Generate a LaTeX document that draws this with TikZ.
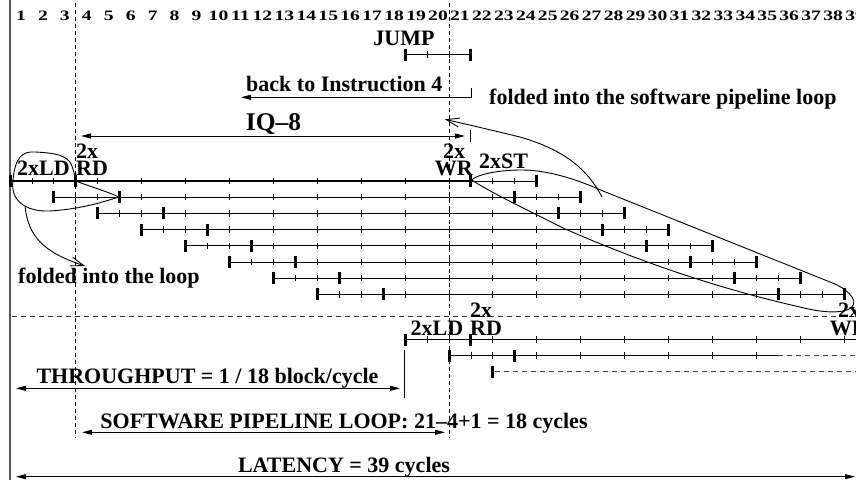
\documentclass[tikz,border=0pt]{standalone}
\usepackage{fontspec}
\setmainfont{Liberation Serif}
\usetikzlibrary{arrows.meta}
\newcommand{\tickthin}[2]{\draw[tickthinline] ({10+21.95*(#1)},{#2-3.2}) -- ({10+21.95*(#1)},{#2+3.2});}
\newcommand{\tickthick}[2]{\draw[tickthickline] ({10+21.95*(#1)},{#2-6}) -- ({10+21.95*(#1)},{#2+6});}
\begin{document}
\begin{tikzpicture}[x=1pt,y=-1pt,
  lab/.style={font=\fontsize{22}{22}\selectfont\bfseries, inner sep=0pt, anchor=base},
  biglab/.style={font=\fontsize{25.5}{25.5}\selectfont\bfseries, inner sep=0pt, anchor=base},
  numlab/.style={inner sep=0pt, anchor=base},
  thinlane/.style={line width=0.9pt},
  thicklane/.style={line width=2.8pt},
  tickthinline/.style={line width=0.9pt},
  tickthickline/.style={line width=3pt},
  dashlane/.style={line width=0.9pt, black!75, dash pattern=on 5pt off 4pt},
  vguide/.style={line width=0.9pt, dash pattern=on 4pt off 3pt},
  hguide/.style={line width=0.9pt, black!80, dash pattern=on 5pt off 4pt},
  dimarrow/.style={line width=0.9pt, arrows={Triangle[length=10pt,width=5pt]-Triangle[length=10pt,width=5pt]}},
  onearrow/.style={line width=0.9pt, arrows={-Triangle[length=10pt,width=5pt]}},
  foldarrow/.style={line width=0.9pt, arrows={-Straight Barb[length=13pt,width=9pt]}},
  loopline/.style={line width=0.9pt},
  plainline/.style={line width=0.9pt},
]
\fill[white] (0,0) rectangle (856,480);
\path[use as bounding box] (0,0) rectangle (856,480);

% left time axis line
\coordinate (axT) at (10,0);
\coordinate (axB) at (10,480);
\draw[line width=1.4pt, black!65] (axT) -- (axB);

% cycle numbers
\foreach \k in {1,...,39} {
  \node[numlab] (n\k) at ({10+21.95*(\k-0.5)},20.7)
    {\scalebox{1.36}[1]{\fontsize{14.4}{15}\selectfont\bfseries \k}};
}

% dashed guides
\coordinate (g1t) at ({10+21.95*3},3);
\coordinate (g1b) at ({10+21.95*3},438);
\coordinate (g2t) at ({10+21.95*20},3);
\coordinate (g2b) at ({10+21.95*20},438);
\draw[vguide] (g1t) -- (g1b);
\draw[vguide] (g2t) -- (g2b);
\coordinate (hgL) at (12,316.5);
\coordinate (hgR) at (856,316.5);
\draw[hguide] (hgL) -- (hgR);

% JUMP
\node[lab] (jump) at (404,45) {JUMP};
\draw[thinlane] ({10+21.95*18},54.5) -- ({10+21.95*21},54.5);
\tickthick{18}{54.5}
\tickthick{21}{54.5}
\tickthin{19}{54.5}
\tickthin{20}{54.5}

% back to instruction 4
\node[lab, anchor=base west] (back) at (246,91.5) {back to Instruction 4};
\coordinate (bk1) at (471,88);
\coordinate (bk2) at (471,97.3);
\coordinate (bk3) at (241,97.3);
\draw[onearrow] (bk1) -- (bk2) -- (bk3);

% folded into the software pipeline loop
\node[lab, anchor=base west] (fsp) at (489,104.5) {folded into the software pipeline loop};

% IQ-8
\node[biglab] (iq) at (273.5,130.5) {IQ–8};
\coordinate (iqL) at (81,136);
\coordinate (iqR) at (465,136);
\draw[dimarrow] (iqL) -- (iqR);
\coordinate (iqb1) at (470.5,130);
\coordinate (iqb2) at (470.5,142);
\draw[plainline] (iqb1) -- (iqb2);

% top iteration: 8 rows
\foreach \i in {0,...,7} {
  \pgfmathsetmacro{\yy}{181+16.2*\i}
  \pgfmathtruncatemacro{\s}{2*\i}
  \draw[thinlane] ({10+21.95*\s},\yy) -- ({10+21.95*(\s+24)},\yy);
  \foreach \d in {1,2,4,6,8,10,12,14,16,18,20,22,23} { \tickthin{\s+\d}{\yy} }
  \foreach \d in {0,3,21,24} { \tickthick{\s+\d}{\yy} }
}
\draw[thicklane] (10,181) -- ({10+21.95*21},181);

% labels of top iteration
\node[lab] (ld1) at (43.5,175) {2xLD};
\node[lab, anchor=base west] (rd1x) at (76,158) {2x};
\node[lab, anchor=base west] (rd1) at (76,175) {RD};
\node[lab] (wr1x) at (454,158) {2x};
\node[lab, anchor=base east] (wr1) at (473,175) {WR};
\node[lab] (st1) at (503.5,168) {2xST};

% left fold loop
\draw[loopline] (76,181) .. controls (88,186) and (106,191) .. (119,197)
  .. controls (100,203) and (80,209) .. (50,211)
  .. controls (25,212) and (10,200) .. (13,180)
  .. controls (15,158) and (22,151) .. (35,152)
  .. controls (55,153) and (68,155) .. (72,166)
  .. controls (74,172) and (75,177) .. (76,181);
\coordinate (fl1) at (25,206);
\coordinate (fl2) at (85,266);
\draw[foldarrow] (fl1) .. controls (28,235) and (42,252) .. (fl2);
\node[lab, anchor=base west] (fl) at (18,283) {folded into the loop};

% right fold loop
\draw[loopline] (471.7,180) .. controls (480,172) and (515,168) .. (537,171)
  .. controls (560,174) and (580,181) .. (603,191)
  -- (835,284)
  .. controls (850,291) and (862,304) .. (847,310)
  .. controls (835,314) and (815,311) .. (800,307)
  .. controls (720,289) and (640,262) .. (563,228)
  .. controls (530,211) and (495,195) .. (471.7,180);
\coordinate (fs1) at (602,197);
\coordinate (fs2) at (445,119.3);
\draw[foldarrow] (fs1) .. controls (588,170) and (565,150) .. (520,137)
  .. controls (495,131) and (470,125) .. (fs2);

% second iteration
\draw[thinlane] ({10+21.95*18},339.5) -- ({10+21.95*44},339.5);
\foreach \d in {1,2,4,6,8,10,12,14,16,18,20,22,23} { \tickthin{18+\d}{339.5} }
\foreach \d in {0,3,21,24} { \tickthick{18+\d}{339.5} }
\draw[thinlane] ({10+21.95*20},355.5) -- (778,355.5);
\draw[dashlane] (778,355.5) -- (870,355.5);
\foreach \d in {21,22,24,26,28,30,32,34} { \tickthin{\d}{355.5} }
\tickthick{20}{355.5}
\tickthick{23}{355.5}
\draw[dashlane] ({10+21.95*22+2},371.7) -- (870,371.7);
\tickthick{22}{371.7}

\node[lab] (ld2) at (437,335) {2xLD};
\node[lab, anchor=base west] (rd2x) at (470,317) {2x};
\node[lab, anchor=base west] (rd2) at (470,335) {RD};
\node[lab] (wr2x) at (849,317) {2x};
\node[lab, anchor=base east] (wr2) at (868,335) {WR};

% throughput
\node[lab] (tp) at (207.5,383) {THROUGHPUT = 1 / 18 block/cycle};
\coordinate (tpL) at (16,388.3);
\coordinate (tpR) at (400,388.3);
\draw[dimarrow] (tpL) -- (tpR);
\coordinate (tpm1) at (404.5,350);
\coordinate (tpm2) at (404.5,398);
\draw[plainline] (tpm1) -- (tpm2);

% software pipeline loop
\node[lab] (sw) at (344,428) {SOFTWARE PIPELINE LOOP: 21–4+1 = 18 cycles};
\coordinate (swL) at (82,432.3);
\coordinate (swR) at (445,432.3);
\draw[dimarrow] (swL) -- (swR);

% latency
\node[lab] (lat) at (344,472) {LATENCY = 39 cycles};
\coordinate (latL) at (16,476.7);
\coordinate (latR) at (855,476.7);
\draw[dimarrow] (latL) -- (latR);
\end{tikzpicture}
\end{document}
